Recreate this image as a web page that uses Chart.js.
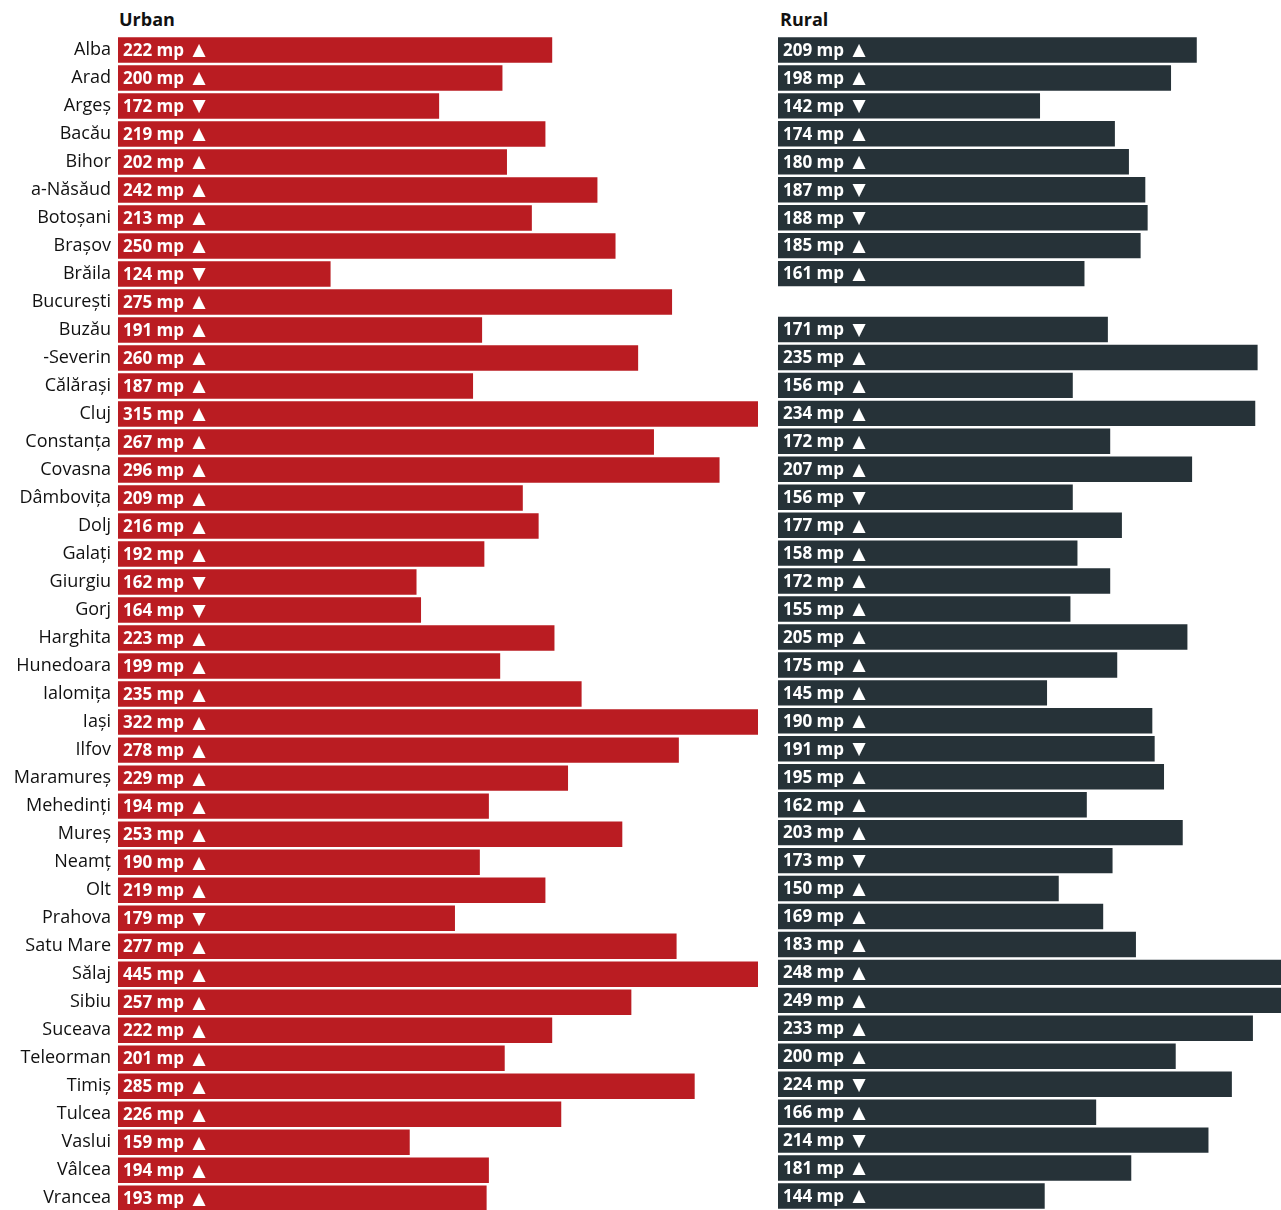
<!DOCTYPE html>
<html>
<head>
<meta charset="utf-8">
<script src="https://cdn.jsdelivr.net/npm/chart.js@4.4.1/dist/chart.umd.min.js"></script>
<style>
  html, body { margin: 0; padding: 0; background: #fff; }
  body { width: 1281px; height: 1210px; position: relative; overflow: hidden; font-family: 'Open Sans', sans-serif; }
  .title { position: absolute; top: 7px; font-weight: bold; font-size: 18px; color: #111; }
  #wrapUrban { position: absolute; left: 0; top: 0; width: 760px; height: 1230px; }
  #wrapRural { position: absolute; left: 778px; top: 0; width: 503px; height: 1210px; }
</style>
</head>
<body>
<div class="title" style="left:119px">Urban</div>
<div class="title" style="left:780px">Rural</div>
<div id="wrapUrban"><canvas id="urbanChart"></canvas></div>
<div id="wrapRural"><canvas id="ruralChart"></canvas></div>
<script>
const counties = ['Alba', 'Arad', 'Argeș', 'Bacău', 'Bihor', 'a-Năsăud', 'Botoșani', 'Brașov', 'Brăila', 'București',
    'Buzău', '-Severin', 'Călărași', 'Cluj', 'Constanța', 'Covasna', 'Dâmbovița', 'Dolj', 'Galați', 'Giurgiu',
    'Gorj', 'Harghita', 'Hunedoara', 'Ialomița', 'Iași', 'Ilfov', 'Maramureș', 'Mehedinți', 'Mureș', 'Neamț',
    'Olt', 'Prahova', 'Satu Mare', 'Sălaj', 'Sibiu', 'Suceava', 'Teleorman', 'Timiș', 'Tulcea', 'Vaslui',
    'Vâlcea', 'Vrancea'];

const urbanValues = [222, 200, 172, 219, 202, 242, 213, 250, 124, 275,
    191, 260, 187, 315, 267, 296, 209, 216, 192, 162,
    164, 223, 199, 235, 322, 278, 229, 194, 253, 190,
    219, 179, 277, 445, 257, 222, 201, 285, 226, 159,
    194, 193];
// 1 = growing, -1 = falling
const urbanTrend = [1, 1, -1, 1, 1, 1, 1, 1, -1, 1,
    1, 1, 1, 1, 1, 1, 1, 1, 1, -1,
    -1, 1, 1, 1, 1, 1, 1, 1, 1, 1,
    1, -1, 1, 1, 1, 1, 1, 1, 1, 1,
    1, 1];

const ruralValues = [209, 198, 142, 174, 180, 187, 188, 185, 161, null,
    171, 235, 156, 234, 172, 207, 156, 177, 158, 172,
    155, 205, 175, 145, 190, 191, 195, 162, 203, 173,
    150, 169, 183, 248, 249, 233, 200, 224, 166, 214,
    181, 144];
const ruralTrend = [1, 1, -1, 1, 1, -1, -1, 1, 1, 0,
    -1, 1, 1, 1, 1, 1, -1, 1, 1, 1,
    1, 1, 1, 1, 1, -1, 1, 1, 1, -1,
    1, 1, 1, 1, 1, 1, 1, -1, 1, -1,
    1, 1];

const urbanRange = [30, 313];
const ruralRange = [30, 245];

const barLabels = {
    id: 'barLabels',
    afterDatasetsDraw(chart, args, opts) {
        const ctx = chart.ctx;
        const meta = chart.getDatasetMeta(0);
        const values = chart.data.datasets[0].data;
        ctx.save();
        ctx.fillStyle = '#fff';
        ctx.textBaseline = 'middle';
        meta.data.forEach((bar, i) => {
            if (values[i] == null) return;
            const x = chart.chartArea.left + 5;
            const txt = values[i] + ' mp ';
            ctx.font = 'bold 17px "Open Sans", sans-serif';
            ctx.fillText(txt, x, bar.y + 1);
            const w = ctx.measureText(txt).width;
            ctx.font = '17px "DejaVu Sans", sans-serif';
            ctx.fillText(opts.trend[i] > 0 ? '▲' : '▼', x + w + 4, bar.y + 1);
        });
        ctx.restore();
    }
};

function makeChart(id, values, trend, color, range, showLabels) {
    const ctx = document.getElementById(id).getContext('2d');
    const yAxis = {
        display: showLabels,
        grid: { display: false, drawTicks: false },
        border: { display: false },
        ticks: { color: '#111', padding: 7, font: { family: 'Open Sans', size: 18 } }
    };
    if (showLabels) yAxis.afterFit = (scale) => { scale.width = 118; };
    return new Chart(ctx, {
        type: 'bar',
        data: {
            labels: counties,
            datasets: [{
                data: values,
                backgroundColor: color,
                borderWidth: 0,
                barPercentage: 0.91,
                categoryPercentage: 1
            }]
        },
        options: {
            indexAxis: 'y',
            responsive: true,
            maintainAspectRatio: false,
            animation: false,
            layout: { padding: { top: 36, right: showLabels ? 2 : 0, bottom: 0, left: 0 } },
            plugins: {
                legend: { display: false },
                tooltip: { enabled: false },
                barLabels: { trend: trend }
            },
            scales: {
                x: {
                    display: false,
                    min: range[0],
                    max: range[1]
                },
                y: yAxis
            }
        },
        plugins: [barLabels]
    });
}

makeChart('urbanChart', urbanValues, urbanTrend, '#BA1C22', urbanRange, true);
makeChart('ruralChart', ruralValues, ruralTrend, '#263238', ruralRange, false);
</script>
</body>
</html>
